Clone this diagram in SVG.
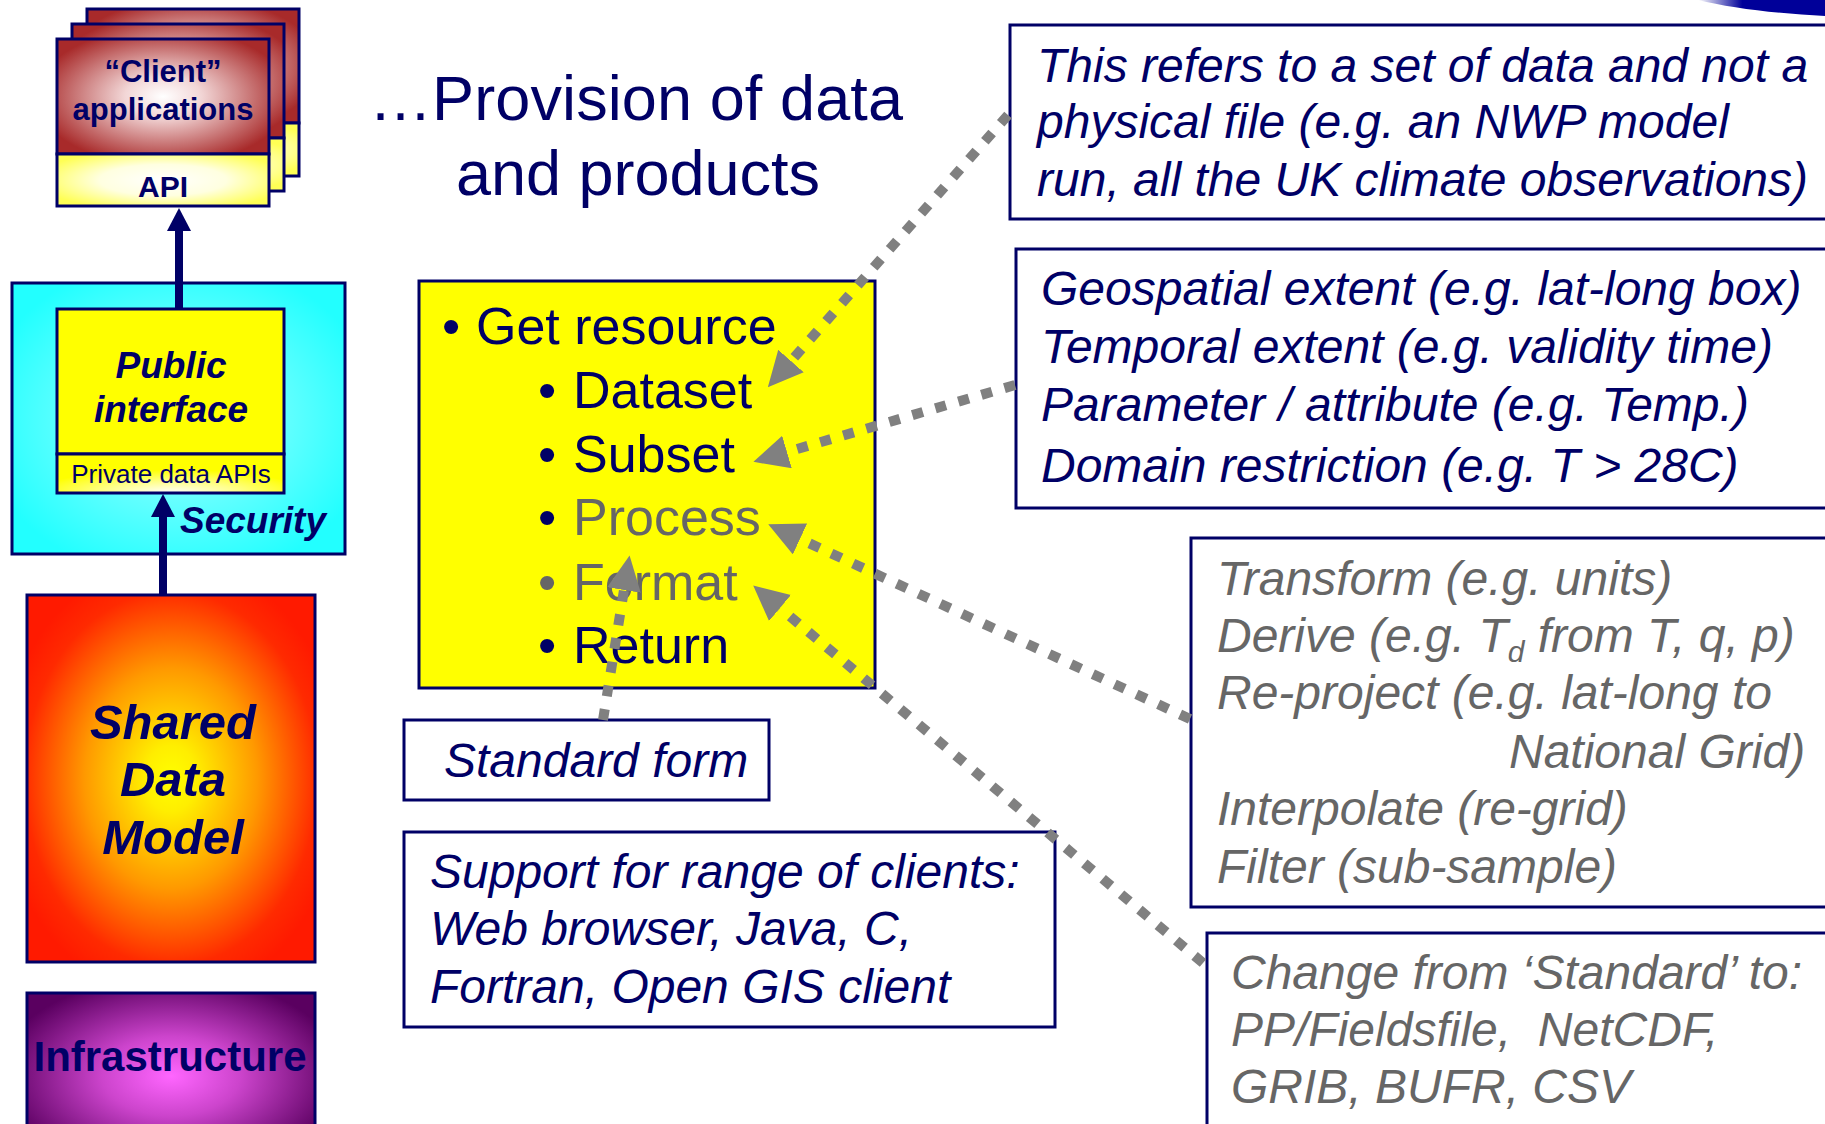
<svg xmlns="http://www.w3.org/2000/svg" width="1825" height="1124" viewBox="0 0 1825 1124">
<style>
  .navy { fill: #000066; }
  .grey { fill: #666666; }
  .sans { font-family: "Liberation Sans", Arial, sans-serif; }
  .bold { font-weight: bold; }
  .ital { font-style: italic; }
  .box { stroke: #000066; stroke-width: 3; }
  .note { fill: #ffffff; stroke: #000066; stroke-width: 3; }
  .t48 { font-size: 48px; }
  .bul { font-size: 52px; }
  .dots { fill: none; stroke: #808080; stroke-width: 10; stroke-dasharray: 11 13; }
  .navyline { fill: none; stroke: #000066; stroke-width: 8; }
</style>
<defs>
  <radialGradient id="redGrad" cx="0.5" cy="0.5" r="0.6">
    <stop offset="0" stop-color="#ffffff"/>
    <stop offset="0.3" stop-color="#f2d6d6"/>
    <stop offset="1" stop-color="#a82a2a"/>
  </radialGradient>
  <radialGradient id="apiGrad" cx="0.5" cy="0.5" r="0.6">
    <stop offset="0" stop-color="#ffffff"/>
    <stop offset="0.5" stop-color="#ffffe0"/>
    <stop offset="1" stop-color="#ffff55"/>
  </radialGradient>
  <radialGradient id="cyanGrad" cx="0.5" cy="0.5" r="0.6">
    <stop offset="0" stop-color="#ccffff"/>
    <stop offset="0.5" stop-color="#66ffff"/>
    <stop offset="1" stop-color="#22ffff"/>
  </radialGradient>
  <radialGradient id="privGrad" cx="0.5" cy="1" r="0.6">
    <stop offset="0" stop-color="#ffffff"/>
    <stop offset="0.5" stop-color="#ffff88"/>
    <stop offset="1" stop-color="#ffff00"/>
  </radialGradient>
  <radialGradient id="sdmGrad" cx="0.5" cy="0.5" r="0.6">
    <stop offset="0" stop-color="#ffff00"/>
    <stop offset="0.15" stop-color="#ffee00"/>
    <stop offset="0.5" stop-color="#ff9900"/>
    <stop offset="0.85" stop-color="#ff2a00"/>
    <stop offset="1" stop-color="#ff1a00"/>
  </radialGradient>
  <radialGradient id="infraGrad" cx="0.5" cy="0.5" r="0.6">
    <stop offset="0" stop-color="#ff66ff"/>
    <stop offset="0.4" stop-color="#cc44cc"/>
    <stop offset="1" stop-color="#5a0060"/>
  </radialGradient>
  <linearGradient id="swoosh" x1="0" y1="0" x2="1" y2="0">
    <stop offset="0" stop-color="#ffffff"/>
    <stop offset="0.35" stop-color="#000099"/>
    <stop offset="1" stop-color="#000099"/>
  </linearGradient>
  <marker id="grayHead" markerUnits="userSpaceOnUse" markerWidth="36" markerHeight="36" refX="0" refY="17" orient="auto">
    <path d="M0,0 L35,17 L0,34 z" fill="#808080"/>
  </marker>
  <marker id="navyHead" markerUnits="userSpaceOnUse" markerWidth="24" markerHeight="26" refX="0" refY="12" orient="auto">
    <path d="M0,0 L23,12 L0,24 z" fill="#000066"/>
  </marker>
</defs>

<rect x="0" y="0" width="1825" height="1124" fill="#ffffff"/>

<!-- top-right logo fragment -->
<path d="M1698,0 C1730,8 1780,14 1825,16 L1825,0 z" fill="url(#swoosh)"/>

<g id="client-apps">
  <rect x="87" y="9" width="212" height="114" fill="url(#redGrad)" class="box"/>
  <rect x="87" y="123" width="212" height="53" fill="url(#apiGrad)" class="box"/>
  <rect x="72" y="24" width="212" height="114" fill="url(#redGrad)" class="box"/>
  <rect x="72" y="138" width="212" height="53" fill="url(#apiGrad)" class="box"/>
  <rect x="57" y="39" width="212" height="115" fill="url(#redGrad)" class="box"/>
  <rect x="57" y="154" width="212" height="52" fill="url(#apiGrad)" class="box"/>
  <text x="163" y="82" text-anchor="middle" class="sans bold navy" font-size="31">“Client”</text>
  <text x="163" y="120" text-anchor="middle" class="sans bold navy" font-size="31">applications</text>
  <text x="163" y="197" text-anchor="middle" class="sans bold navy" font-size="30">API</text>
</g>

<g id="security-layer">
  <rect x="12" y="283" width="333" height="271" fill="url(#cyanGrad)" class="box"/>
  <text x="180" y="533" class="sans bold ital navy" font-size="37">Security</text>
</g>

<g id="public-interface">
  <rect x="57" y="309" width="227" height="145" fill="#ffff00" class="box"/>
  <rect x="57" y="454" width="227" height="39" fill="url(#privGrad)" class="box"/>
  <text x="171" y="378" text-anchor="middle" class="sans bold ital navy" font-size="37">Public</text>
  <text x="171" y="422" text-anchor="middle" class="sans bold ital navy" font-size="37">interface</text>
  <text x="171" y="483" text-anchor="middle" class="sans navy" font-size="26">Private data APIs</text>
</g>

<g id="shared-data-model">
  <rect x="27" y="595" width="288" height="367" fill="url(#sdmGrad)" class="box"/>
  <text x="173" y="739" text-anchor="middle" class="sans bold ital navy" font-size="49">Shared</text>
  <text x="173" y="796" text-anchor="middle" class="sans bold ital navy" font-size="49">Data</text>
  <text x="173" y="854" text-anchor="middle" class="sans bold ital navy" font-size="49">Model</text>
</g>

<g id="infrastructure">
  <rect x="27" y="993" width="288" height="166" fill="url(#infraGrad)" class="box"/>
  <text x="170" y="1071" text-anchor="middle" class="sans bold navy" font-size="42">Infrastructure</text>
</g>

<g id="title">
  <text x="636" y="120" text-anchor="middle" class="sans navy" font-size="63" textLength="534" lengthAdjust="spacing">…Provision of data</text>
  <text x="638" y="195" text-anchor="middle" class="sans navy" font-size="63">and products</text>
</g>

<g id="operations">
  <rect x="419" y="281" width="456" height="407" fill="#ffff00" class="box"/>
  <text x="451" y="344" text-anchor="middle" class="sans navy bul">•</text>
  <text x="476" y="344" class="sans navy bul">Get resource</text>
  <text x="547" y="408" text-anchor="middle" class="sans navy bul">•</text>
  <text x="573" y="408" class="sans navy bul">Dataset</text>
  <text x="547" y="472" text-anchor="middle" class="sans navy bul">•</text>
  <text x="573" y="472" class="sans navy bul">Subset</text>
  <text x="547" y="535" text-anchor="middle" class="sans navy bul">•</text>
  <text x="573" y="535" class="sans grey bul">Process</text>
  <text x="547" y="600" text-anchor="middle" class="sans grey bul">•</text>
  <text x="573" y="600" class="sans grey bul">Format</text>
  <text x="547" y="663" text-anchor="middle" class="sans navy bul">•</text>
  <text x="573" y="663" class="sans navy bul">Return</text>
</g>

<g id="note-dataset">
  <rect x="1010" y="25" width="830" height="194" class="note"/>
  <text class="sans ital navy t48">
    <tspan x="1037" y="82">This refers to a set of data and not a</tspan>
    <tspan x="1037" y="138">physical file (e.g. an NWP model</tspan>
    <tspan x="1037" y="196">run, all the UK climate observations)</tspan>
  </text>
</g>

<g id="note-subset">
  <rect x="1016" y="249" width="830" height="259" class="note"/>
  <text class="sans ital navy t48">
    <tspan x="1041" y="305">Geospatial extent (e.g. lat-long box)</tspan>
    <tspan x="1041" y="363">Temporal extent (e.g. validity time)</tspan>
    <tspan x="1041" y="421">Parameter / attribute (e.g. Temp.)</tspan>
    <tspan x="1041" y="482">Domain restriction (e.g. T &gt; 28C)</tspan>
  </text>
</g>

<g id="note-process">
  <rect x="1191" y="538" width="650" height="369" class="note"/>
  <text class="sans ital grey t48">
    <tspan x="1217" y="595">Transform (e.g. units)</tspan>
    <tspan x="1217" y="652">Derive (e.g. T<tspan dy="10" font-size="30">d</tspan><tspan dy="-10"> from T, q, p)</tspan></tspan>
    <tspan x="1217" y="709">Re-project (e.g. lat-long to</tspan>
    <tspan x="1509" y="768">National Grid)</tspan>
    <tspan x="1217" y="825">Interpolate (re-grid)</tspan>
    <tspan x="1217" y="883">Filter (sub-sample)</tspan>
  </text>
</g>

<g id="note-format">
  <rect x="1207" y="933" width="640" height="220" class="note"/>
  <text class="sans ital grey t48">
    <tspan x="1231" y="989">Change from ‘Standard’ to:</tspan>
    <tspan x="1231" y="1046">PP/Fieldsfile, &#160;NetCDF,</tspan>
    <tspan x="1231" y="1103">GRIB, BUFR, CSV</tspan>
  </text>
</g>

<g id="standard-form">
  <rect x="404" y="720" width="365" height="80" class="note"/>
  <text x="444" y="777" class="sans ital navy t48">Standard form</text>
</g>

<g id="clients-support">
  <rect x="404" y="832" width="651" height="195" class="note"/>
  <text class="sans ital navy t48">
    <tspan x="430" y="888">Support for range of clients:</tspan>
    <tspan x="430" y="945">Web browser, Java, C,</tspan>
    <tspan x="430" y="1003">Fortran, Open GIS client</tspan>
  </text>
</g>

<g id="connectors">
  <path class="navyline" d="M179,309 L179,231" marker-end="url(#navyHead)"/>
  <path class="navyline" d="M163,595 L163,517" marker-end="url(#navyHead)"/>
  <path class="dots" d="M1008,115 L791,361" marker-end="url(#grayHead)"/>
  <path class="dots" d="M1015,385 L787,452" marker-end="url(#grayHead)"/>
  <path class="dots" d="M1190,719 L800,539" marker-end="url(#grayHead)"/>
  <path class="dots" d="M1203,963 L780,608" marker-end="url(#grayHead)"/>
  <path class="dots" d="M603,720 L624,590" marker-end="url(#grayHead)"/>
</g>
</svg>
